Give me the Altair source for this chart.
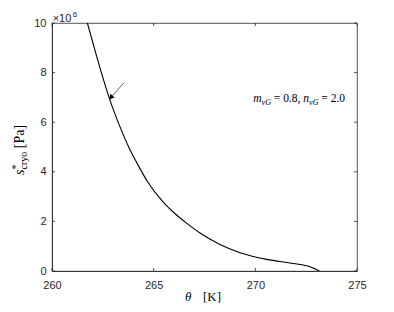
import altair as alt
import pandas as pd

# Curve (theta in K, s*_cryo in units of 1e6 Pa)
theta = [261.74, 262.20, 262.82, 263.34, 263.80, 264.20, 264.70, 265.47, 266.00,
         266.62, 267.28, 268.26, 269.25, 270.56, 271.87, 272.69, 273.15]
s_cryo = [10.0, 8.64, 6.96, 5.82, 4.95, 4.32, 3.60, 2.78, 2.35,
          1.93, 1.53, 1.07, 0.74, 0.47, 0.30, 0.17, 0.0]

# Arrow annotation (tail -> head)
arrow_theta = [263.55, 262.92]
arrow_s = [7.60, 7.02]

x_ticks = [260, 265, 270, 275]
y_ticks = [0, 2, 4, 6, 8, 10]

W, H = 305, 248
AX = "#262626"

curve_df = pd.DataFrame({"theta": theta, "s": s_cryo})
arrow_df = pd.DataFrame({"theta": arrow_theta, "s": arrow_s})
head_df = arrow_df.tail(1)
xt_df = pd.DataFrame({"t": x_ticks})
yt_df = pd.DataFrame({"t": y_ticks})
one = pd.DataFrame({"k": [0]})

xs = alt.Scale(domain=[260, 275], nice=False, zero=False)
ys = alt.Scale(domain=[0, 10], nice=False, zero=False)

xaxis = alt.Axis(values=x_ticks, ticks=False, tickSize=0, labelPadding=8, labelFlush=False,
                 grid=False, title=None, domainColor=AX, domainWidth=0.8,
                 labelFont="Liberation Sans", labelFontSize=11, labelColor=AX)
yaxis = alt.Axis(values=y_ticks, ticks=False, tickSize=0, labelPadding=6,
                 grid=False, title=None, domainColor=AX, domainWidth=0.8,
                 labelFont="Liberation Sans", labelFontSize=11, labelColor=AX)

curve = alt.Chart(curve_df).mark_line(color="black", strokeWidth=1.1, interpolate="monotone", clip=True).encode(
    x=alt.X("theta:Q", scale=xs, axis=xaxis),
    y=alt.Y("s:Q", scale=ys, axis=yaxis),
)

arrow_line = alt.Chart(arrow_df).mark_line(color="black", strokeWidth=0.6).encode(
    x=alt.X("theta:Q", scale=xs), y=alt.Y("s:Q", scale=ys))
arrow_head = alt.Chart(head_df).mark_point(shape="triangle", filled=True, color="black",
                                           size=32, angle=220, opacity=1).encode(
    x=alt.X("theta:Q", scale=xs), y=alt.Y("s:Q", scale=ys))

tk = dict(color=AX, strokeWidth=0.8)
tick_bottom = alt.Chart(xt_df).mark_rule(**tk).encode(x=alt.X("t:Q", scale=xs), y=alt.value(H), y2=alt.value(H - 3))
tick_top = alt.Chart(xt_df).mark_rule(**tk).encode(x=alt.X("t:Q", scale=xs), y=alt.value(0), y2=alt.value(3))
tick_left = alt.Chart(yt_df).mark_rule(**tk).encode(y=alt.Y("t:Q", scale=ys), x=alt.value(0), x2=alt.value(3))
tick_right = alt.Chart(yt_df).mark_rule(**tk).encode(y=alt.Y("t:Q", scale=ys), x=alt.value(W), x2=alt.value(W - 3))


def txt(s, x, y, size, italic=False, font="Liberation Serif", angle=0, color="black"):
    kw = dict(text=s, font=font, fontSize=size, align="left", baseline="alphabetic", color=color)
    if italic:
        kw["fontStyle"] = "italic"
    if angle:
        kw["angle"] = angle
    return alt.Chart(one).mark_text(**kw).encode(x=alt.value(x), y=alt.value(y))


# annotation m_vG = 0.8, n_vG = 2.0
ab = 79
ann = [
    txt("m", 201.3, ab, 11.5, True),
    txt("vG", 209.6, ab + 3, 8, True),
    txt("= 0.8,", 221.8, ab, 11.5),
    txt("n", 251.3, ab, 11.5, True),
    txt("vG", 257.1, ab + 3, 8, True),
    txt("= 2.0", 269.3, ab, 11.5),
]

# y title s*_cryo [Pa] (rotated)
bx = -28
y0 = 152
ytitle = [
    txt("s", bx, y0, 14, True, angle=270),
    txt("*", bx - 5, y0 - 5.5, 10, angle=270),
    txt("cryo", bx + 3, y0 - 5.5, 10, angle=270),
    txt("[Pa]", bx, y0 - 5.5 - 17.8 - 3.5, 14, angle=270),
]

# x title theta [K]
xtitle = [
    txt("θ", 133, 278, 13, True),
    txt("[K]", 151, 278, 13),
]

# exponent
expo = [
    txt("×10", 0.7, -1, 11, font="Liberation Sans", color=AX),
    txt("6", 20.7, -6, 8, font="Liberation Sans", color=AX),
]

chart = alt.layer(curve, arrow_line, arrow_head, tick_bottom, tick_top, tick_left, tick_right,
                  *ann, *ytitle, *xtitle, *expo).properties(
    width=W, height=H,
    autosize=alt.AutoSizeParams(type="none"),
    padding={"left": 44, "top": 15, "right": 25, "bottom": 33},
).configure_view(stroke=AX, strokeWidth=0.8)

chart.save("out.html", embed_options={"renderer": "svg", "actions": False})
